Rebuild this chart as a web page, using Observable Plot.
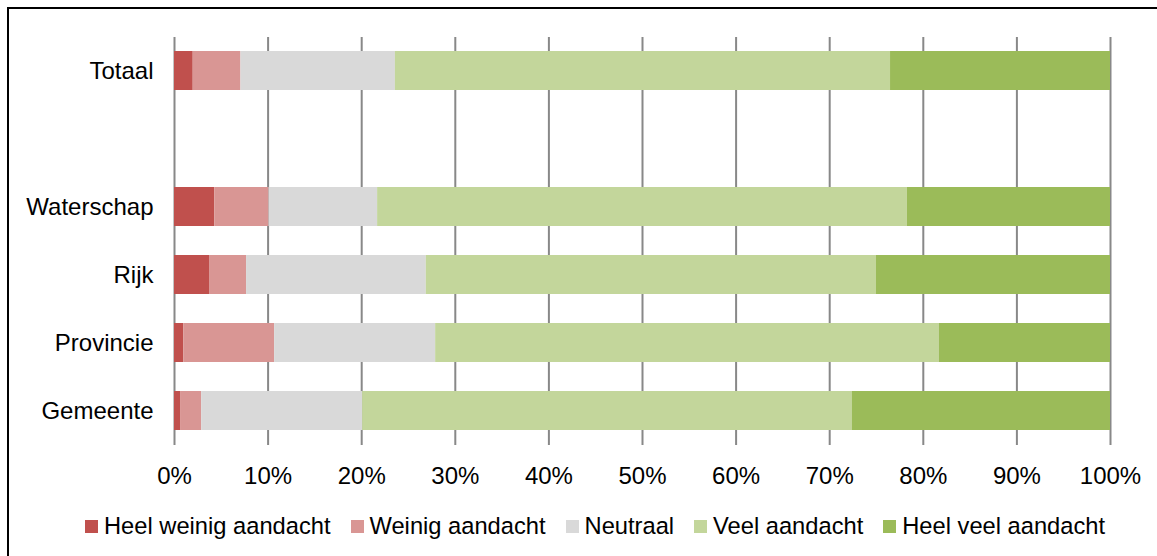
<!DOCTYPE html>
<html><head><meta charset="utf-8">
<script src="https://cdn.jsdelivr.net/npm/d3@7"></script>
<script src="https://cdn.jsdelivr.net/npm/@observablehq/plot@0.6"></script>
<style>
html,body{margin:0;padding:0;background:#fff;overflow:hidden;}
#wrap{position:relative;width:1157px;height:556px;overflow:hidden;font-family:"Liberation Sans",Arial,sans-serif;background:#fff;}
#frame{position:absolute;left:7px;top:7px;width:1200px;height:600px;border:2px solid #000;box-sizing:border-box;pointer-events:none;}
#chart{position:absolute;left:0;top:0;}
#legend{position:absolute;left:85px;top:513px;display:flex;align-items:center;gap:20px;font-size:23.7px;color:#000;white-space:nowrap;}
.item{display:flex;align-items:center;}
.sw{width:13px;height:13px;margin-right:6px;flex:none;}
</style></head><body>
<div id="wrap"><div id="chart"></div><div id="legend"></div><div id="frame"></div></div>
<script>
const categories = ["Totaal", " ", "Waterschap", "Rijk", "Provincie", "Gemeente"];
const responses = ["Heel weinig aandacht", "Weinig aandacht", "Neutraal", "Veel aandacht", "Heel veel aandacht"];
const colors = ["#C0504D", "#D99694", "#D9D9D9", "#C3D69B", "#9BBB59"];
const totaal     = [2.0, 5.1, 16.5, 52.9, 23.5];
const waterschap = [4.3, 5.8, 11.6, 56.6, 21.7];
const rijk       = [3.8, 3.9, 19.2, 48.1, 25.0];
const provincie  = [1.0, 9.7, 17.2, 53.8, 18.3];
const gemeente   = [0.7, 2.2, 17.2, 52.3, 27.6];
const xTicks = [0, 10, 20, 30, 40, 50, 60, 70, 80, 90, 100];

const rows = [["Totaal", totaal], ["Waterschap", waterschap], ["Rijk", rijk], ["Provincie", provincie], ["Gemeente", gemeente]];
const data = [];
rows.forEach(([cat, vals]) => vals.forEach((v, i) => data.push({cat, resp: responses[i], value: v})));

const chart = Plot.plot({
  width: 1157, height: 556,
  marginLeft: 174, marginRight: 47, marginTop: 37, marginBottom: 111,
  style: {fontFamily: "'Liberation Sans', Arial, sans-serif", fontSize: "24px", color: "#000", background: "transparent"},
  x: {domain: [0, 100], label: null},
  y: {domain: categories, paddingInner: 0.426, paddingOuter: 0.206, label: null},
  color: {domain: responses, range: colors},
  marks: [
    Plot.ruleX(xTicks, {stroke: "#888888", strokeWidth: 2}),
    Plot.barX(data, Plot.stackX({y: "cat", x: "value", fill: "resp", order: responses})),
    Plot.axisX({ticks: xTicks, tickFormat: d => d + "%", tickSize: 0, tickPadding: 21, fontSize: 24, label: null}),
    Plot.axisY({tickSize: 0, tickPadding: 21, fontSize: 24, label: null})
  ]
});
document.getElementById("chart").appendChild(chart);

const color = chart.scale("color");
const legend = document.getElementById("legend");
responses.forEach(r => {
  const item = document.createElement("div");
  item.className = "item";
  const sw = document.createElement("div");
  sw.className = "sw";
  sw.style.background = color.apply(r);
  const t = document.createElement("span");
  t.textContent = r;
  item.appendChild(sw); item.appendChild(t);
  legend.appendChild(item);
});
</script>
</body></html>
